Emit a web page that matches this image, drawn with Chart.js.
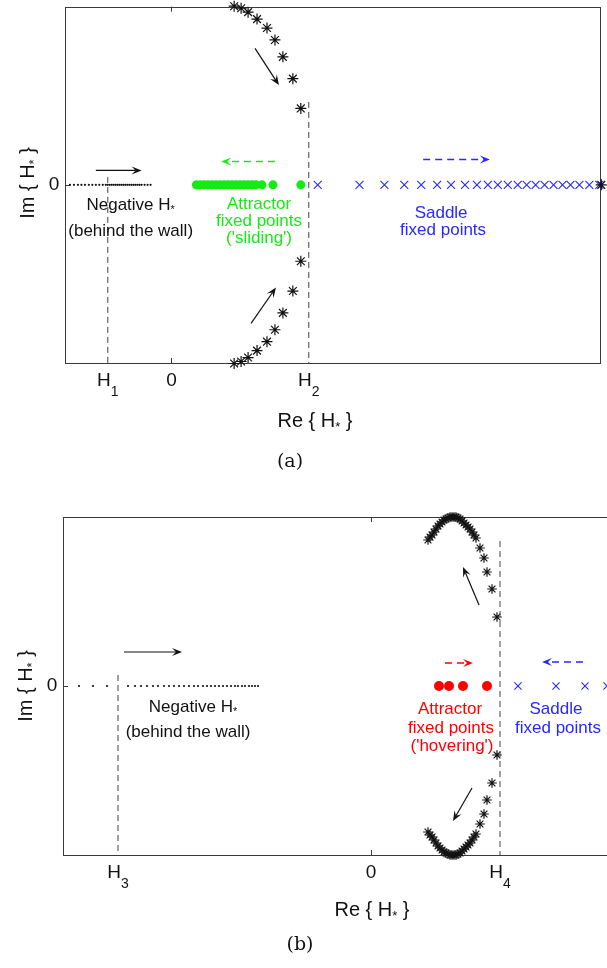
<!DOCTYPE html>
<html>
<head>
<meta charset="utf-8">
<script src="https://cdn.jsdelivr.net/npm/chart.js@4.4.1/dist/chart.umd.min.js"></script>
<style>
  html, body { margin: 0; padding: 0; background: #fff; overflow: hidden; width: 607px; height: 968px; }
  canvas { position: absolute; left: 0; }
  #chartA { top: 0; }
  #chartB { top: 470px; }
</style>
</head>
<body>
<canvas id="chartA" width="607" height="470"></canvas>
<canvas id="chartB" width="620" height="498"></canvas>
<script>
// Values are in arbitrary units (the figure is schematic, no numeric ticks)

// ---- panel (a) ----
const aNegX = [-102, -98, -94, -90.5, -87, -83, -79.5, -76, -72.5, -69, -66, -64, -62, -60, -58, -56, -54, -52,
  -50, -48, -46, -44, -42, -40, -38, -36, -34, -32, -30, -27, -24, -21];
const aEigX = [63, 70, 77, 86, 96, 104, 112, 122, 130, 130, 122, 112, 104, 96, 86, 77, 70, 63, 432];
const aEigY = [180, 178, 174, 167, 158, 146, 129, 107, 77, -77, -107, -129, -146, -158, -167, -174, -178, -180, 0];
const aAttrX = [25, 29, 33, 37, 41, 45, 49, 53, 57, 61, 65, 69, 73, 77, 81, 85, 91, 102, 130];
const aSaddleX = [147, 189, 214, 234, 251, 267, 281, 295, 307, 318, 328, 338, 348, 357, 366, 375, 384, 393,
  401, 410, 420, 430];
const aWallX = [-64, 138];     // H1, H2
const aWallTop = [8, 83.5];
const aTickX = [-64, 0, 138];
const aTickMain = ['H', '0', 'H'];
const aTickSub = ['1', '', '2'];

// ---- panel (b) ----
const bNegX = [-292, -278, -264, -243, -236, -230, -224, -218, -213, -207, -202, -197, -192, -187, -182, -177,
  -173, -168, -164, -160, -156, -152, -148, -144, -140, -136, -133, -129, -126, -122, -119, -116, -113];
const bEigX = [57, 59, 61, 63, 65, 67, 69, 71, 73, 75, 77, 79, 81, 83, 85, 87, 89, 91, 93, 95, 97, 99, 101, 103,
  105, 109, 113, 116, 121, 126,
  57, 59, 61, 63, 65, 67, 69, 71, 73, 75, 77, 79, 81, 83, 85, 87, 89, 91, 93, 95, 97, 99, 101, 103,
  105, 109, 113, 116, 121, 126];
const bEigY = [146, 149, 151, 154, 157, 160, 162, 164, 166, 167, 168, 169, 169, 169, 169, 168, 167, 165, 163, 161,
  159, 157, 154, 151, 148, 138, 128, 114, 97, 69,
  -146, -149, -151, -154, -157, -160, -162, -164, -166, -167, -168, -169, -169, -169, -169, -168, -167, -165, -163, -161,
  -159, -157, -154, -151, -148, -138, -128, -114, -97, -69];
const bAttrX = [68, 78, 92, 116];
const bSaddleX = [147, 185, 214, 236];
const bWallX = [-253, 129];    // H3, H4
const bWallTop = [11, 145];
const bTickX = [-253, 0, 129];
const bTickMain = ['H', '0', 'H'];
const bTickSub = ['3', '', '4'];

const FONT = '"Liberation Sans", Arial, Helvetica, sans-serif';
const GREEN = 'rgb(20,235,20)';
const BLUE = 'rgb(40,40,255)';
const RED = 'rgb(255,0,0)';

function drawParts(ctx, parts, cx, cy, color) {
  let total = 0;
  const widths = parts.map(p => {
    ctx.font = p.s + 'px ' + FONT;
    const w = ctx.measureText(p.t).width;
    total += w;
    return w;
  });
  let x = cx - total / 2;
  ctx.fillStyle = color;
  ctx.textAlign = 'left';
  ctx.textBaseline = 'middle';
  parts.forEach((p, i) => {
    ctx.font = p.s + 'px ' + FONT;
    ctx.fillText(p.t, x, cy + (p.dy || 0));
    x += widths[i];
  });
}

function arrow(ctx, x1, y1, x2, y2, color, dashed) {
  const ang = Math.atan2(y2 - y1, x2 - x1);
  const hl = 10, hw = 4;
  ctx.save();
  ctx.strokeStyle = color;
  ctx.fillStyle = color;
  ctx.lineWidth = dashed ? 1.6 : 1.2;
  ctx.setLineDash(dashed ? [7, 5] : []);
  ctx.beginPath();
  ctx.moveTo(x1, y1);
  ctx.lineTo(x2 - Math.cos(ang) * hl * 0.6, y2 - Math.sin(ang) * hl * 0.6);
  ctx.stroke();
  ctx.setLineDash([]);
  ctx.beginPath();
  ctx.moveTo(x2, y2);
  ctx.lineTo(x2 - hl * Math.cos(ang) + hw * Math.sin(ang), y2 - hl * Math.sin(ang) - hw * Math.cos(ang));
  ctx.lineTo(x2 - hl * 0.6 * Math.cos(ang), y2 - hl * 0.6 * Math.sin(ang));
  ctx.lineTo(x2 - hl * Math.cos(ang) - hw * Math.sin(ang), y2 - hl * Math.sin(ang) + hw * Math.cos(ang));
  ctx.closePath();
  ctx.fill();
  ctx.restore();
}

const decor = {
  id: 'decor',
  beforeDatasetsDraw(chart) {
    const ctx = chart.ctx, a = chart.chartArea;
    const x0 = Math.round(chart.scales.x.getPixelForValue(0)) + 0.5;
    const y0 = Math.round(chart.scales.y.getPixelForValue(0)) + 0.5;
    ctx.save();
    ctx.strokeStyle = '#3a3a3a';
    ctx.lineWidth = 1;
    ctx.strokeRect(Math.round(a.left) + 0.5, Math.round(a.top) + 0.5,
      Math.round(a.right - a.left), Math.round(a.bottom - a.top));
    ctx.beginPath();
    ctx.moveTo(x0, a.top); ctx.lineTo(x0, a.top + 5);
    ctx.moveTo(x0, a.bottom); ctx.lineTo(x0, a.bottom - 5);
    ctx.moveTo(a.left, y0); ctx.lineTo(a.left + 5, y0);
    ctx.stroke();
    ctx.restore();
  },
  afterDatasetsDraw(chart, args, o) {
    const ctx = chart.ctx, a = chart.chartArea;
    const px = v => chart.scales.x.getPixelForValue(v);
    const py = v => chart.scales.y.getPixelForValue(v);
    ctx.save();
    // tick labels
    o.tickX.forEach((v, i) => {
      const parts = [{ t: o.tickMain[i], s: 19 }];
      if (o.tickSub[i]) parts.push({ t: o.tickSub[i], s: 14, dy: 11 });
      drawParts(ctx, parts, px(v), a.bottom + 18, '#111');
    });
    drawParts(ctx, [{ t: '0', s: 19 }], a.left - 11, py(0), '#111');
    // axis titles
    drawParts(ctx, [{ t: 'Re { H', s: 20 }, { t: '*', s: 13, dy: 6 }, { t: ' }', s: 20 }],
      o.xTitle[0], o.xTitle[1], '#111');
    ctx.save();
    ctx.translate(o.yTitle[0], o.yTitle[1]);
    ctx.rotate(-Math.PI / 2);
    drawParts(ctx, [{ t: 'Im { H', s: 20 }, { t: '*', s: 13, dy: 6 }, { t: ' }', s: 20 }], 0, 0, '#111');
    ctx.restore();
    // annotations
    o.texts.forEach(tx => {
      const parts = tx.h ? [{ t: tx.t, s: 17 }, { t: '*', s: 11, dy: 5 }] : [{ t: tx.t, s: 17 }];
      drawParts(ctx, parts, px(tx.x), py(tx.y), tx.c);
    });
    o.arrows.forEach(ar => arrow(ctx, px(ar[0]), py(ar[1]), px(ar[2]), py(ar[3]), ar[4], ar[5]));
    // panel letter
    ctx.fillStyle = '#111';
    ctx.font = '19px "DejaVu Serif", "Liberation Serif", serif';
    ctx.textAlign = 'center';
    ctx.textBaseline = 'middle';
    ctx.fillText(o.letter[0], o.letter[1], o.letter[2]);
    ctx.restore();
  }
};

function makeDatasets(negX, eigX, eigY, attrX, saddleX, wallX, wallTop, yMin, attrColor, sz) {
  const dashed = wallX.map((x, i) => ({
    type: 'line', data: [{ x: x, y: wallTop[i] }, { x: x, y: yMin }],
    borderColor: '#444', borderWidth: 1, borderDash: [6, 4], pointRadius: 0, showLine: true, clip: false
  }));
  return [
    { data: negX.map(x => ({ x: x, y: 0 })), pointStyle: 'circle', pointRadius: 1.1,
      backgroundColor: '#111', borderWidth: 0, clip: false },
    ...dashed,
    { data: eigX.map((x, i) => ({ x: x, y: eigY[i] })), pointStyle: 'star', pointRadius: sz.star,
      borderColor: '#111', borderWidth: 1.2, clip: false },
    { data: attrX.map(x => ({ x: x, y: 0 })), pointStyle: 'circle', pointRadius: sz.dot,
      backgroundColor: attrColor, borderWidth: 0, clip: false },
    { data: saddleX.map(x => ({ x: x, y: 0 })), pointStyle: 'crossRot', pointRadius: sz.cross,
      borderColor: BLUE, borderWidth: 1.1, clip: false }
  ];
}

function baseOptions(pad, xr, yr, deco) {
  return {
    responsive: false, animation: false, events: [],
    layout: { padding: pad },
    scales: {
      x: { type: 'linear', display: false, min: xr[0], max: xr[1] },
      y: { type: 'linear', display: false, min: yr[0], max: yr[1] }
    },
    plugins: { legend: { display: false }, tooltip: { enabled: false }, decor: deco }
  };
}

new Chart(document.getElementById('chartA'), {
  type: 'scatter',
  data: { datasets: makeDatasets(aNegX, aEigX, aEigY, aAttrX, aSaddleX, aWallX, aWallTop, -179.5, GREEN,
    { star: 5.5, dot: 4.5, cross: 5.6 }) },
  options: baseOptions({ left: 65, top: 4, right: 4, bottom: 107 }, [-107, 431], [-179.5, 179.5], {
    tickX: aTickX, tickMain: aTickMain, tickSub: aTickSub,
    xTitle: [315, 421], yTitle: [28, 183],
    letter: ['(a)', 290, 462],
    texts: [
      { t: 'Negative H', h: true, x: -41, y: -20.5, c: '#111' },
      { t: '(behind the wall)', x: -41, y: -46.5, c: '#111' },
      { t: 'Attractor', x: 88, y: -19.5, c: GREEN },
      { t: 'fixed points', x: 88, y: -36.5, c: GREEN },
      { t: "('sliding')", x: 88, y: -53.5, c: GREEN },
      { t: 'Saddle', x: 271, y: -28.5, c: BLUE },
      { t: 'fixed points', x: 273, y: -45.5, c: BLUE }
    ],
    arrows: [
      [-76, 14.5, -30, 14.5, '#111', false],
      [104, 23.5, 50, 23.5, GREEN, true],
      [253, 25.5, 320, 25.5, BLUE, true],
      [84, 137.5, 108, 100.5, '#111', false],
      [80, -139.5, 105, -103.5, '#111', false]
    ]
  }),
  plugins: [decor]
});

new Chart(document.getElementById('chartB'), {
  type: 'scatter',
  data: { datasets: makeDatasets(bNegX, bEigX, bEigY, bAttrX, bSaddleX, bWallX, bWallTop, -169, RED,
    { star: 4.8, dot: 5, cross: 5 }) },
  options: baseOptions({ left: 63, top: 47, right: 11, bottom: 113 }, [-308, 238], [-169, 169], {
    tickX: bTickX, tickMain: bTickMain, tickSub: bTickSub,
    xTitle: [372, 440], yTitle: [26, 216],
    letter: ['(b)', 300, 475],
    texts: [
      { t: 'Negative H', h: true, x: -178, y: -21, c: '#111' },
      { t: '(behind the wall)', x: -183, y: -46, c: '#111' },
      { t: 'Attractor', x: 79, y: -23, c: RED },
      { t: 'fixed points', x: 80, y: -42, c: RED },
      { t: "('hovering')", x: 81, y: -60, c: RED },
      { t: 'Saddle', x: 185, y: -23, c: BLUE },
      { t: 'fixed points', x: 187, y: -42, c: BLUE }
    ],
    arrows: [
      [-247, 34, -189, 34, '#111', false],
      [74, 23, 102, 23, RED, true],
      [212, 24, 171, 24, BLUE, true],
      [108, 81, 92, 119, '#111', false],
      [101, -102, 82, -135, '#111', false]
    ]
  }),
  plugins: [decor]
});
</script>
</body>
</html>
